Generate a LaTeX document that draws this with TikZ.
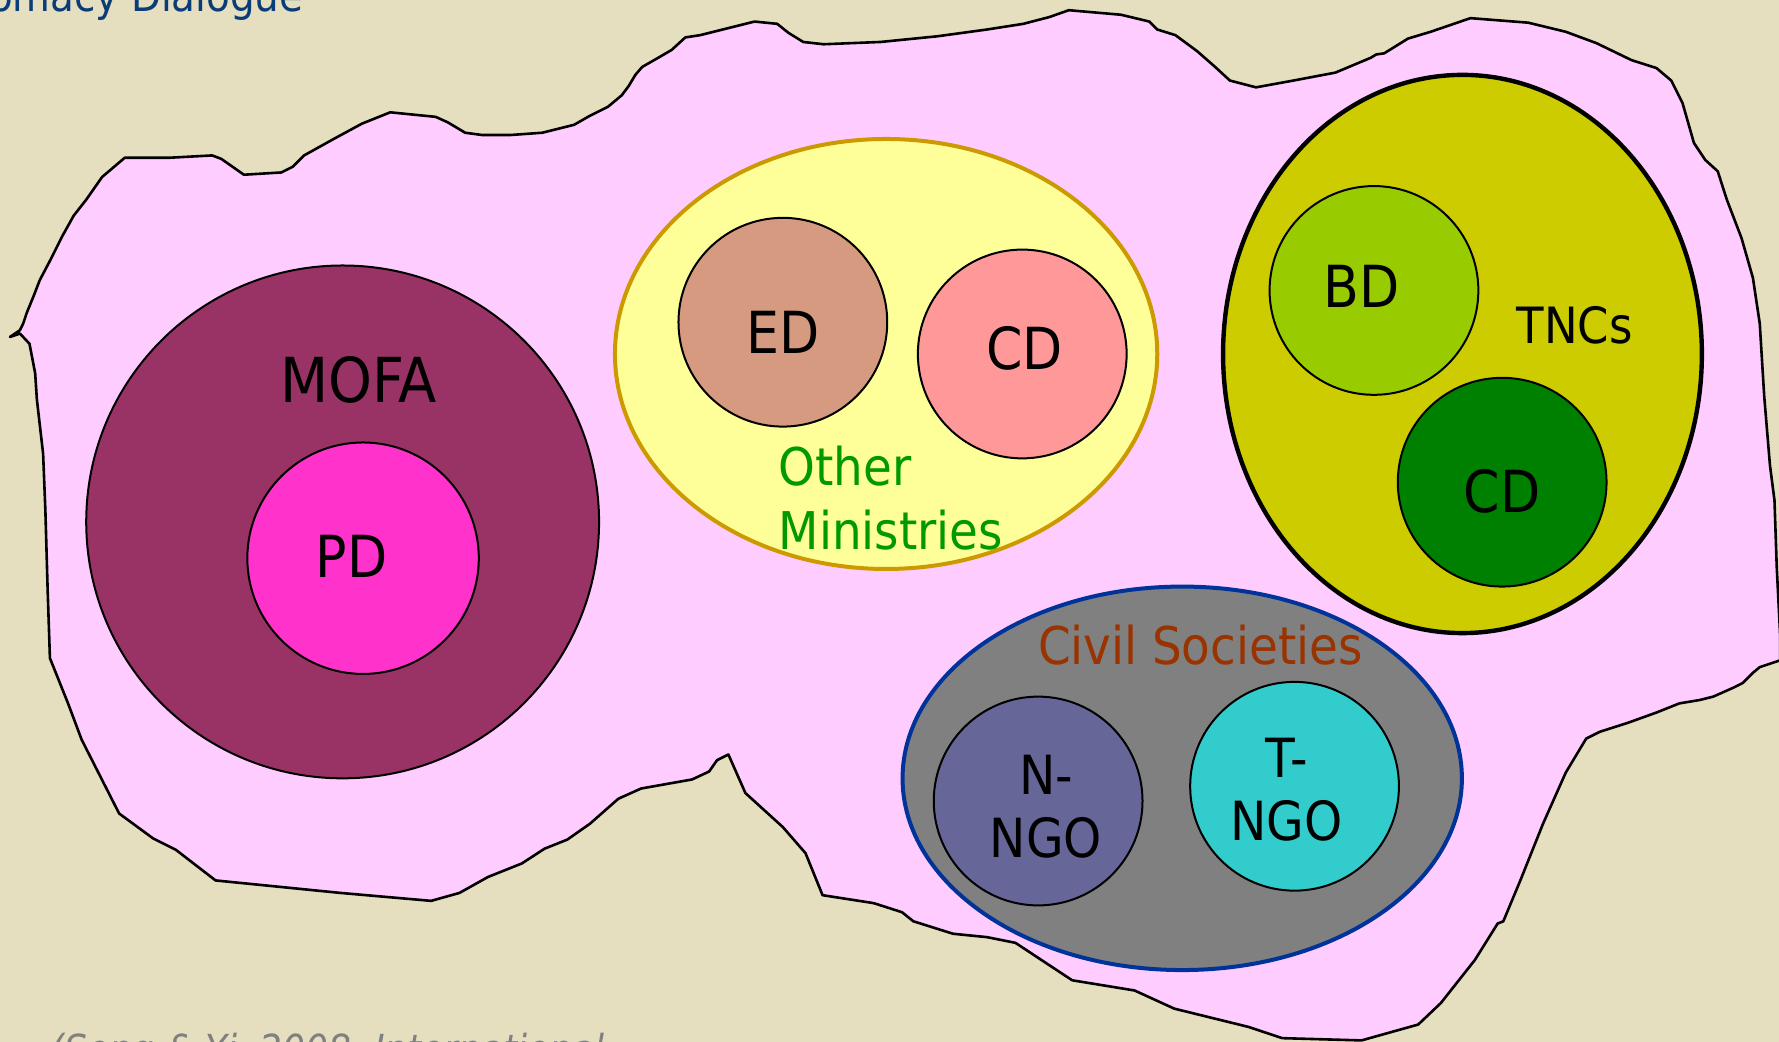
\documentclass[tikz,border=0pt]{standalone}
\usepackage{fontspec}
\setmainfont{DejaVu Sans Condensed}
\usetikzlibrary{shapes.geometric}
\definecolor{bg}{RGB}{229,223,192}
\definecolor{blob}{RGB}{255,204,255}
\definecolor{mofa}{RGB}{153,51,102}
\definecolor{pdc}{RGB}{255,51,204}
\definecolor{omfill}{RGB}{255,255,153}
\definecolor{omline}{RGB}{204,153,0}
\definecolor{edc}{RGB}{214,154,128}
\definecolor{cdpink}{RGB}{255,153,153}
\definecolor{tncc}{RGB}{204,204,0}
\definecolor{bdc}{RGB}{153,204,0}
\definecolor{cdgreen}{RGB}{0,128,0}
\definecolor{csfill}{RGB}{128,128,128}
\definecolor{csline}{RGB}{0,51,153}
\definecolor{nngoc}{RGB}{102,102,153}
\definecolor{tngoc}{RGB}{51,204,204}
\definecolor{omtext}{RGB}{0,153,0}
\definecolor{cstext}{RGB}{153,51,0}
\definecolor{titlec}{RGB}{10,60,120}
\definecolor{srcc}{RGB}{128,128,128}
\begin{document}
\begin{tikzpicture}[x=0.5673pt,y=-0.5673pt,
  disc/.style={circle, draw=black, line width=1pt, inner sep=0pt, minimum size={#1*0.5673pt}},
  oval/.style 2 args={ellipse, inner sep=0pt, minimum width={#1*0.5673pt}, minimum height={#2*0.5673pt}},
  big/.style={font=\fontsize{29}{35}\selectfont, inner sep=0pt},
  mid/.style={font=\fontsize{26}{31.8}\selectfont, inner sep=0pt},
  blobline/.style={draw=black, line width=1.3pt, line join=round, fill=blob}]
\clip (0,0) rectangle (1568,918);
\fill[bg] (0,0) rectangle (1568,918);
\useasboundingbox (0,0) rectangle (1568,918);

% pink blob
\path[blobline] (8.8,297) -- (17.6,291) -- (20.5,285) -- (23.5,276) -- (30,260) -- (35,247) -- (45,228) -- (55,208) -- (65,190) -- (76,176) -- (90,156) -- (110,139) -- (150,139) -- (187,137) -- (195,140) -- (215,154) -- (248,152) -- (258,147) -- (268,137) -- (295,122) -- (319,109) -- (344,99) -- (384,103) -- (395,108) -- (410,117) -- (425,119) -- (450,119) -- (478,117) -- (506,110) -- (520,102) -- (536,94) -- (548,84) -- (554,76) -- (560,66) -- (566,59) -- (580,51) -- (592,44) -- (604,33) -- (617,31) -- (665,19) -- (685,21) -- (695,29) -- (708,37) -- (726,39) -- (776,37) -- (826,32) -- (870,26) -- (902,21) -- (925,15) -- (942,9) -- (988,13) -- (1013,19) -- (1020,26) -- (1036,31) -- (1055,45) -- (1071,59) -- (1084,71) -- (1107,77) -- (1140,71) -- (1177,64) -- (1208,51) -- (1213,48) -- (1220,47) -- (1241,34) -- (1261,28) -- (1296,16) -- (1347,20) -- (1380,28) -- (1407,38) -- (1438,53) -- (1460,60) -- (1473,71) -- (1483,91) -- (1493,126) -- (1503,141) -- (1514,151) -- (1522,176) -- (1535,210) -- (1545,245) -- (1551,285) -- (1555,350) -- (1560,410) -- (1564,441) -- (1566,500) -- (1569,560) -- (1569,582) -- (1560,585) -- (1551,588) -- (1545,593) -- (1536,602) -- (1528,606) -- (1510,614) -- (1498,617) -- (1480,620) -- (1460,628) -- (1435,637) -- (1410,645) -- (1398,651) -- (1380,681) -- (1360,726) -- (1340,776) -- (1325,812) -- (1320,814) -- (1300,846) -- (1270,884) -- (1250,903) -- (1200,917) -- (1130,915) -- (1100,905) -- (1035,889) -- (1000,873) -- (945,864) -- (895,831) -- (870,826) -- (840,823) -- (805,812) -- (795,804) -- (770,796) -- (725,789) -- (710,752) -- (690,729) -- (657,699) -- (642,665) -- (632,670) -- (625,680) -- (610,687) -- (565,695) -- (545,704) -- (520,726) -- (500,740) -- (480,748) -- (460,761) -- (430,773) -- (405,787) -- (380,794) -- (300,787) -- (190,776) -- (155,749) -- (135,739) -- (105,717) -- (72,652) -- (60,620) -- (48,590) -- (44,580) -- (42,520) -- (40,450) -- (38,400) -- (32.5,352) -- (31,329) -- (26,303) -- (17.6,294) -- cycle;

% MOFA group
\node[disc=452, fill=mofa] (mofa) at (302,460) {};
\node[disc=204, fill=pdc] (pd) at (320,492) {};

% Other ministries group
\node[oval={478}{379}, draw=omline, line width=2pt, fill=omfill] (om) at (781,312) {};
\node[disc=184, fill=edc] (ed) at (690,284) {};
\node[disc=184, fill=cdpink] (cd1) at (901,312) {};

% TNC group
\node[oval={422}{492}, draw=black, line width=2.2pt, fill=tncc] (tnc) at (1289,312) {};
\node[disc=184, fill=bdc] (bd) at (1211,256) {};
\node[disc=184, fill=cdgreen] (cd2) at (1324,425) {};

% Civil societies group
\node[oval={493}{338}, draw=csline, line width=2pt, fill=csfill] (cs) at (1042,686) {};
\node[disc=184, fill=nngoc] (nngo) at (915,706) {};
\node[disc=184, fill=tngoc] (tngo) at (1141,693) {};

% labels
\node[big, font=\fontsize{31}{36}\selectfont] (tmofa) at (316,335) {MOFA};
\node[big] (tpd) at (310,490) {PD};
\node[big] (ted) at (690,293) {ED};
\node[big] (tcd1) at (903,307) {CD};
\node[mid, text=omtext, anchor=west, align=left] (tom) at (686,439) {Other\\Ministries};
\node[big] (tbd) at (1200,252) {BD};
\node[font=\fontsize{25}{30}\selectfont, inner sep=0pt] (ttnc) at (1388,287) {TNCs};
\node[big] (tcd2) at (1324,433) {CD};
\node[mid, text=cstext] (tcs) at (1058,569) {Civil Societies};
\node[big, align=center, font=\fontsize{27}{31.8}\selectfont] (tnngo) at (922,711) {N-\\NGO};
\node[big, align=center, font=\fontsize{27}{31.8}\selectfont] (ttngo) at (1134,696) {T-\\NGO};

% clipped slide texts
\node[anchor=base west, inner sep=0pt, text=titlec, font=\fontsize{21.6}{26}\selectfont] (title) at (-10,10) {omacy Dialogue};
\node[anchor=base west, inner sep=0pt, text=srcc, font=\itshape\fontsize{20}{24}\selectfont] (src) at (44,937) {(Song \& Yi, 2008, International};
\end{tikzpicture}
\end{document}
